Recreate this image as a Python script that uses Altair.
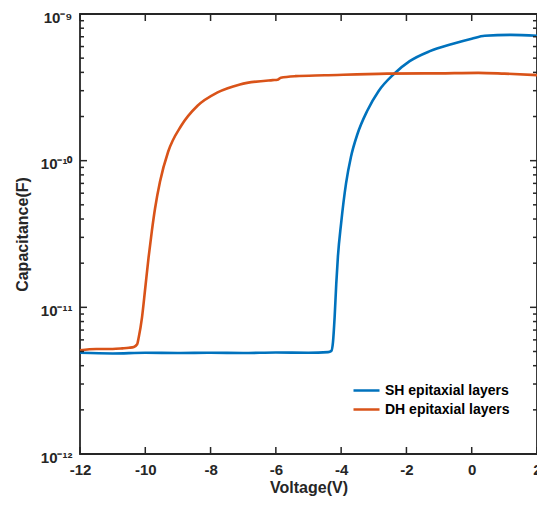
import altair as alt
import pandas as pd

# ---- data ----
series_names = ["SH epitaxial layers", "DH epitaxial layers"]

sh_v = [-12, -11, -10, -9, -8, -7, -6, -5, -4.4, -4.3, -4.25, -4.2, -4.15, -4.1, -4.0,
        -3.85, -3.7, -3.5, -3.2, -2.85, -2.4, -1.9, -1.3, -0.6, 0.0, 0.4, 1.2, 2.0]
sh_c = [4.9e-12, 4.85e-12, 4.9e-12, 4.88e-12, 4.9e-12, 4.88e-12, 4.92e-12, 4.9e-12,
        4.95e-12, 5.05e-12, 5.8e-12, 8.55e-12, 1.44e-11, 2.2e-11, 3.75e-11, 7.0e-11,
        1.06e-10, 1.52e-10, 2.19e-10, 2.99e-10, 3.87e-10, 4.77e-10, 5.56e-10,
        6.24e-10, 6.78e-10, 7.10e-10, 7.21e-10, 7.10e-10]

dh_v = [-12, -11.5, -11, -10.7, -10.5, -10.35, -10.25, -10.2, -10.1, -10.0, -9.9, -9.8,
        -9.7, -9.55, -9.3, -8.9, -8.4, -7.8, -7.1, -6.1, -5.95, -5.85, -5.4, -4.5,
        -2.6, -1.0, 0.2, 1.0, 2.0]
dh_c = [5.1e-12, 5.2e-12, 5.2e-12, 5.25e-12, 5.3e-12, 5.37e-12, 5.6e-12, 6.26e-12,
        8.55e-12, 1.36e-11, 2.18e-11, 3.3e-11, 4.74e-11, 7.18e-11, 1.15e-10, 1.73e-10,
        2.37e-10, 2.91e-10, 3.31e-10, 3.54e-10, 3.56e-10, 3.68e-10, 3.77e-10, 3.82e-10,
        3.92e-10, 3.94e-10, 3.97e-10, 3.92e-10, 3.83e-10]

x_ticks = [-12, -10, -8, -6, -4, -2, 0, 2]
y_major = [1e-12, 1e-11, 1e-10, 1e-9]
y_major_labels = ["10⁻¹²", "10⁻¹¹", "10⁻¹⁰", "10⁻⁹"]
y_minor = [k * 10.0 ** e for e in (-12, -11, -10) for k in range(2, 10)]

colors = ["#0072BD", "#D95319"]

df = pd.concat([
    pd.DataFrame({"V": sh_v, "C": sh_c, "series": series_names[0], "order": range(len(sh_v))}),
    pd.DataFrame({"V": dh_v, "C": dh_c, "series": series_names[1], "order": range(len(dh_v))}),
])

FONT = "Liberation Sans"
AX = "#262626"
MAJ, MIN, TW = 7, 4, 1.5

xs = alt.Scale(domain=[x_ticks[0], x_ticks[-1]], nice=False, zero=False)
ys = alt.Scale(type="log", domain=[y_major[0], y_major[-1]], nice=False)

label_expr = " : ".join(
    f"datum.value < {v * 3:.0e} ? '{lab}'" for v, lab in zip(y_major[:-1], y_major_labels[:-1])
) + f" : '{y_major_labels[-1]}'"

x_axis = alt.Axis(
    values=x_ticks, labelExpr="'' + datum.value", title="Voltage(V)", ticks=False,
    domain=False, grid=False, labelFlush=False, labelPadding=8, labelFontSize=15,
    labelFontWeight="bold", labelFont=FONT, labelColor=AX, titleFontSize=16,
    titleFontWeight="bold", titleFont=FONT, titleColor=AX, titlePadding=2)
y_axis = alt.Axis(
    values=y_major, labelExpr=label_expr, title="Capacitance(F)", ticks=False,
    domain=False, grid=False, labelFlush=False, labelPadding=8, labelOffset=3,
    labelFontSize=15, labelFontWeight="bold", labelFont=FONT, labelColor=AX,
    titleFontSize=16, titleFontWeight="bold", titleFont=FONT, titleColor=AX,
    titlePadding=10)

lines = alt.Chart(df).mark_line(strokeWidth=2.6, interpolate="monotone").encode(
    x=alt.X("V:Q", scale=xs, axis=x_axis),
    y=alt.Y("C:Q", scale=ys, axis=y_axis),
    color=alt.Color("series:N", scale=alt.Scale(domain=series_names, range=colors),
                    legend=alt.Legend(
                        title=None, orient="none", legendX=272, legendY=369,
                        symbolType="stroke", symbolSize=676, symbolStrokeWidth=2.6,
                        clipHeight=15, labelFont=FONT, labelFontSize=14,
                        labelFontWeight="bold", labelColor="#000000", labelOffset=4,
                        rowPadding=4)),
    order="order:Q",
)


def y_side_ticks(x_val, y_vals, length, sign):
    d = pd.DataFrame({"V": x_val, "C": y_vals})
    return alt.Chart(d).mark_tick(
        orient="horizontal", size=length, thickness=TW, color=AX,
        xOffset=sign * length / 2, opacity=1,
    ).encode(x=alt.X("V:Q", scale=xs, axis=None), y=alt.Y("C:Q", scale=ys, axis=None))


def x_side_ticks(y_val, length, sign):
    d = pd.DataFrame({"V": x_ticks, "C": y_val})
    return alt.Chart(d).mark_tick(
        orient="vertical", size=length, thickness=TW, color=AX,
        yOffset=sign * length / 2, opacity=1,
    ).encode(x=alt.X("V:Q", scale=xs, axis=None), y=alt.Y("C:Q", scale=ys, axis=None))


chart = alt.layer(
    lines,
    y_side_ticks(x_ticks[0], y_major, MAJ, 1),
    y_side_ticks(x_ticks[0], y_minor, MIN, 1),
    y_side_ticks(x_ticks[-1], y_major, MAJ, -1),
    y_side_ticks(x_ticks[-1], y_minor, MIN, -1),
    x_side_ticks(y_major[0], MAJ, -1),
    x_side_ticks(y_major[-1], MAJ, 1),
).resolve_axis(x="independent", y="independent").properties(
    width=457, height=440, autosize="none",
    padding={"left": 72, "top": 6, "right": 0, "bottom": 43},
).configure_view(stroke=AX, strokeWidth=1.8)

chart.save("out.html", embed_options={"renderer": "svg", "actions": False})
